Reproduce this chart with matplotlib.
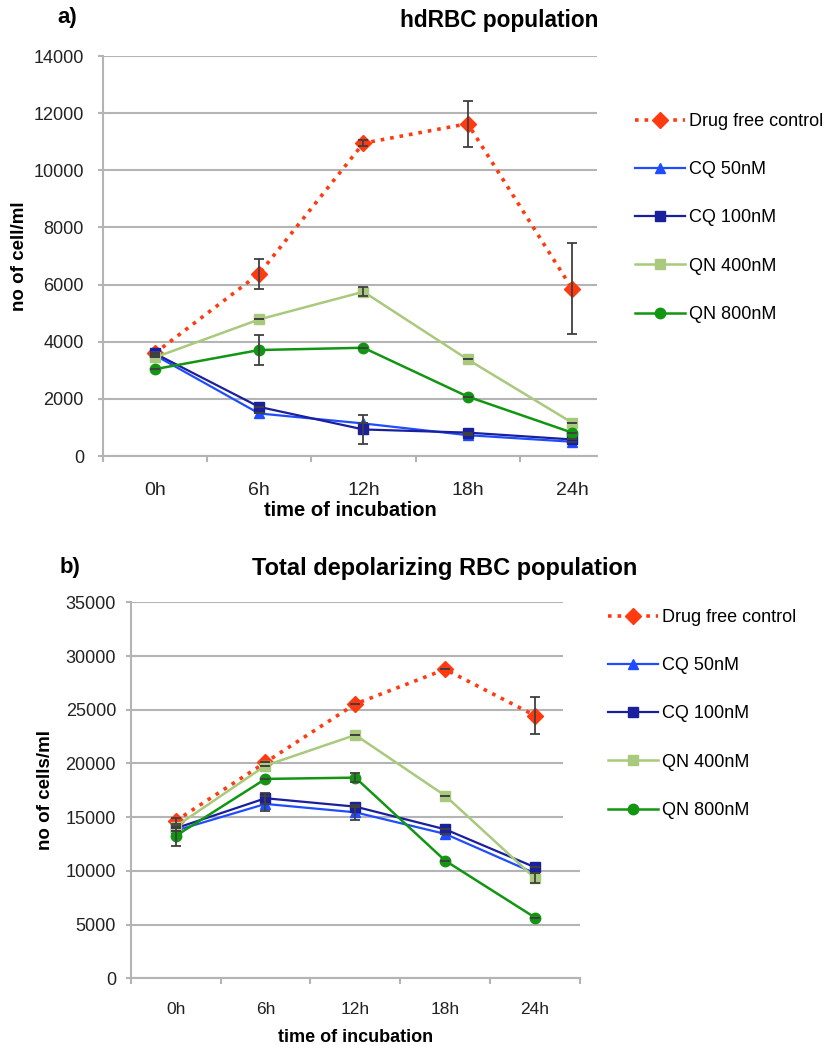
import matplotlib
matplotlib.use("Agg")
import matplotlib.pyplot as plt
from matplotlib.patches import Rectangle
import numpy as np

plt.rcParams['font.family'] = ['Liberation Sans', 'DejaVu Sans']

times = ['0h', '6h', '12h', '18h', '24h']
labels = ['Drug free control', 'CQ 50nM', 'CQ 100nM', 'QN 400nM', 'QN 800nM']

# a) hdRBC population (cells/ml)
hd_control = [3600, 6380, 10950, 11630, 5860]
hd_cq50 = [3530, 1490, 1140, 730, 500]
hd_cq100 = [3590, 1720, 930, 820, 580]
hd_qn400 = [3450, 4780, 5750, 3380, 1170]
hd_qn800 = [3040, 3710, 3790, 2080, 820]
hd_control_err = [0, 520, 100, 810, 1590]
hd_cq50_err = [0, 0, 0, 0, 0]
hd_cq100_err = [0, 0, 510, 0, 0]
hd_qn400_err = [0, 0, 150, 0, 0]
hd_qn800_err = [0, 510, 0, 0, 0]

# b) total depolarizing RBC population (cells/ml)
tot_control = [14650, 20100, 25540, 28760, 24450]
tot_cq50 = [13750, 16230, 15450, 13440, 9770]
tot_cq100 = [13960, 16760, 15980, 13870, 10330]
tot_qn400 = [14120, 19800, 22650, 17000, 9310]
tot_qn800 = [13250, 18560, 18680, 10950, 5650]
tot_control_err = [300, 0, 0, 0, 1710]
tot_cq50_err = [0, 700, 700, 0, 0]
tot_cq100_err = [0, 500, 0, 0, 0]
tot_qn400_err = [0, 0, 0, 0, 450]
tot_qn800_err = [900, 0, 400, 0, 0]

styles = [
    dict(color='#ff3a10', ls=':', lw=2.6, marker='D', ms=8.5),
    dict(color='#1f4cff', ls='-', lw=1.6, marker='^', ms=7),
    dict(color='#1a1f9c', ls='-', lw=1.6, marker='s', ms=6.5),
    dict(color='#a9c97c', ls='-', lw=1.8, marker='s', ms=7),
    dict(color='#129612', ls='-', lw=1.8, marker='o', ms=7.5),
]

grid_col = '#b4b4b4'


def draw_panel(ax, series, errors, ymax, ystep, ylabel, xright, xfs, ypad, xpad):
    x = np.arange(len(times))
    handles = []
    for vals, errs, st, lab in zip(series, errors, styles, labels):
        h, = ax.plot(x, vals, color=st['color'], ls=st['ls'], lw=st['lw'],
                     marker=st['marker'], ms=st['ms'], mec=st['color'],
                     mfc=st['color'], label=lab, zorder=3)
        handles.append(h)
        ax.errorbar(x, vals, yerr=errs, fmt='none', ecolor='#404040',
                    elinewidth=1.3, capsize=3.5, capthick=1.3, zorder=4)
    ax.set_yticks(np.arange(0, ymax + 1, ystep))
    ax.set_xticks(np.arange(-0.5, 5, 1.0))
    ax.set_xticklabels([])
    ax.set_xticks(x, minor=True)
    ax.set_xticklabels(times, minor=True)
    ax.set_xlim(-0.5, xright)
    ax.set_ylim(0, ymax)
    ax.tick_params(axis='x', which='minor', length=0, pad=xpad, labelsize=xfs,
                   labelcolor='#222222')
    ax.tick_params(axis='x', which='major', length=4.5, color=grid_col, width=1.5)
    ax.tick_params(axis='y', length=3.5, color=grid_col, width=1.5, labelsize=13,
                   labelcolor='#222222', pad=ypad)
    ax.grid(axis='y', color=grid_col, lw=1.5)
    ax.set_axisbelow(True)
    for s in ['top', 'right']:
        ax.spines[s].set_visible(False)
    for s in ['left', 'bottom']:
        ax.spines[s].set_color(grid_col)
        ax.spines[s].set_linewidth(1.5)
    ax.set_ylabel(ylabel, fontsize=13.5, fontweight='bold')
    return handles


W, H = 829, 1045
fig = plt.figure(figsize=(W / 100, H / 100), dpi=100)

ax1 = fig.add_axes([0.1239, 0.5636, 0.5963, 0.3828])
h1 = draw_panel(ax1,
                [hd_control, hd_cq50, hd_cq100, hd_qn400, hd_qn800],
                [hd_control_err, hd_cq50_err, hd_cq100_err, hd_qn400_err, hd_qn800_err],
                14000, 2000, 'no of cell/ml', 4.24, 14, 10, 19)
ax1.set_xlabel('time of incubation', fontsize=14.5, fontweight='bold', labelpad=1)
ax1.yaxis.set_label_coords(-0.151, 0.5)

ax2 = fig.add_axes([130.7 / W, 1 - 978.3 / H, (580 - 130.7) / W, 376 / H])
h2 = draw_panel(ax2,
                [tot_control, tot_cq50, tot_cq100, tot_qn400, tot_qn800],
                [tot_control_err, tot_cq50_err, tot_cq100_err, tot_qn400_err, tot_qn800_err],
                35000, 5000, 'no of cells/ml', 4.5, 12.5, 7, 17)
ax2.set_xlabel('time of incubation', fontsize=13, fontweight='bold', labelpad=9)
ax2.yaxis.set_label_coords(-0.171, 0.5)

# blank strip behind the lower legend, hiding the grid ends
fig.patches.append(Rectangle((563 / W, 1 - 840 / H), 40 / W, 250 / H,
                             transform=fig.transFigure, facecolor='white',
                             edgecolor='none', zorder=5))

leg_kw = dict(loc='upper left', frameon=False, fontsize=13, handlelength=2.75,
              handletextpad=0.25, labelspacing=1.73, borderaxespad=0, borderpad=0)
fig.legend(handles=h1, bbox_to_anchor=(635 / W, 1 - 113 / H), **leg_kw)
fig.legend(handles=h2, bbox_to_anchor=(608 / W, 1 - 609 / H), **leg_kw)

fig.text(57 / W, 1 - 18 / H, 'a)', fontsize=16, fontweight='bold', va='center')
fig.text(499 / W, 1 - 20 / H, 'hdRBC population', fontsize=16.3,
         fontweight='bold', ha='center', va='center')
fig.text(60 / W, 1 - 568 / H, 'b)', fontsize=16, fontweight='bold', va='center')
fig.text(445 / W, 1 - 568 / H, 'Total depolarizing RBC population', fontsize=17,
         fontweight='bold', ha='center', va='center')

fig.savefig('out.png', dpi=100)
